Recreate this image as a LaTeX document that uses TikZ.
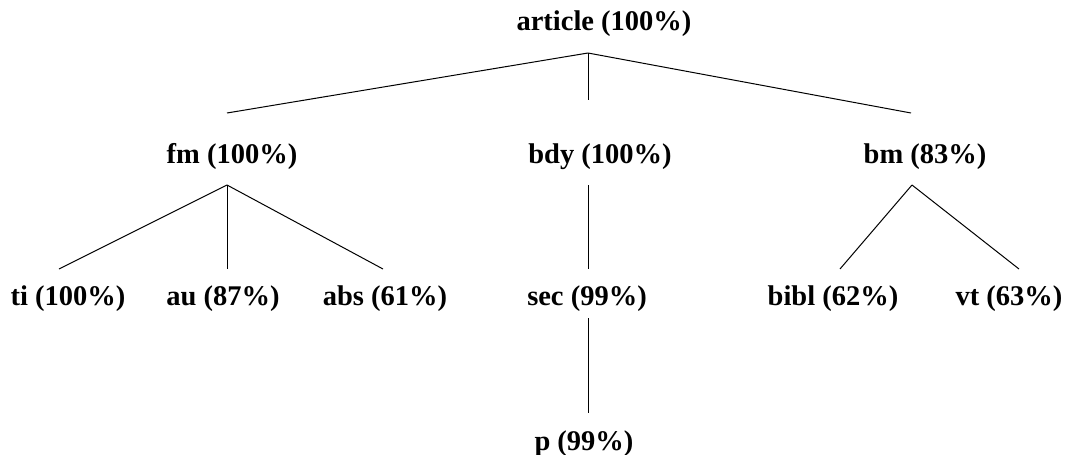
\documentclass[tikz,border=0pt]{standalone}
\usepackage{fontspec}
\setmainfont{Liberation Serif}
\begin{document}
\begin{tikzpicture}[x=1pt,y=-1pt,
  lbl/.style={font=\bfseries\fontsize{28.5}{30}\selectfont, anchor=base, inner sep=0pt},
  edge/.style={line width=1pt, black}]
\useasboundingbox (0,0) rectangle (1068,455);
% labels
\node[lbl] (article) at (604,30) {article (100\%)};
\node[lbl] (fm)  at (232,163) {fm (100\%)};
\node[lbl] (bdy) at (600,163) {bdy (100\%)};
\node[lbl] (bm)  at (925,163) {bm (83\%)};
\node[lbl] (ti)  at (68,305)  {ti (100\%)};
\node[lbl] (au)  at (223,305) {au (87\%)};
\node[lbl] (abs) at (385,305) {abs (61\%)};
\node[lbl] (sec) at (587,305) {sec (99\%)};
\node[lbl] (bibl) at (833,305) {bibl (62\%)};
\node[lbl] (vt)  at (1009,305) {vt (63\%)};
\node[lbl] (p)   at (584,450) {p (99\%)};
% connector end points
\coordinate (article-b) at (588,53);
\coordinate (fm-t)  at (227,113);
\coordinate (bdy-t) at (588,100);
\coordinate (bm-t)  at (911,113);
\coordinate (fm-b)  at (227,185);
\coordinate (bdy-b) at (588,185);
\coordinate (bm-b)  at (912,185);
\coordinate (ti-t)  at (59,269);
\coordinate (au-t)  at (227,269);
\coordinate (abs-t) at (383,269);
\coordinate (sec-t) at (588,269);
\coordinate (bibl-t) at (840,269);
\coordinate (vt-t)  at (1019,269);
\coordinate (sec-b) at (588,318);
\coordinate (p-t)   at (588,413);
% connectors
\draw[edge] (article-b) -- (fm-t);
\draw[edge] (article-b) -- (bdy-t);
\draw[edge] (article-b) -- (bm-t);
\draw[edge] (fm-b) -- (ti-t);
\draw[edge] (fm-b) -- (au-t);
\draw[edge] (fm-b) -- (abs-t);
\draw[edge] (bdy-b) -- (sec-t);
\draw[edge] (bm-b) -- (bibl-t);
\draw[edge] (bm-b) -- (vt-t);
\draw[edge] (sec-b) -- (p-t);
\end{tikzpicture}
\end{document}
